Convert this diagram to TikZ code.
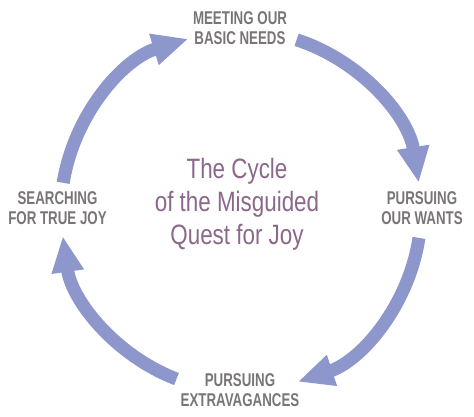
\documentclass[tikz,border=0pt]{standalone}
\usepackage{fontspec}
\usetikzlibrary{arrows.meta}
\newfontfamily\lblfont[FakeStretch=0.72]{Liberation Sans}
\newfontfamily\ttlfont[FakeStretch=0.80]{Liberation Sans}
\definecolor{arrowcol}{RGB}{141,151,204}
\definecolor{lblcol}{RGB}{122,117,117}
\definecolor{ttlcol}{RGB}{138,104,138}
\tikzset{
  lbl/.style={anchor=north, inner sep=0pt, align=center, text=lblcol,
    font=\lblfont\bfseries\fontsize{18.5}{20}\selectfont},
  ttl/.style={anchor=north, inner sep=0pt, align=center, text=ttlcol,
    font=\ttlfont\fontsize{28}{33}\selectfont},
  cyc/.style={draw=arrowcol, line width=13pt,
    -{Triangle[length=36pt,width=30pt]}}
}
\begin{document}
\begin{tikzpicture}[x=1pt,y=1pt]
\useasboundingbox (0,0) rectangle (474,417);
\coordinate (c) at (241,206);
\node[lbl] (meet) at (240,405.3) {MEETING OUR\\BASIC NEEDS};
\node[lbl] (wants) at (422,225.3) {PURSUING\\OUR WANTS};
\node[lbl] (extra) at (240,44) {PURSUING\\EXTRAVAGANCES};
\node[lbl] (search) at (57.5,225.3) {SEARCHING\\FOR TRUE JOY};
\node[ttl] (title) at (237,258.7) {The Cycle\\of the Misguided\\Quest for Joy};
\draw[cyc] (c) ++(171:180) arc[start angle=171, end angle=107, radius=180];
\draw[cyc] (c) ++(72:180) arc[start angle=72, end angle=9, radius=180];
\draw[cyc] (c) ++(-8.6:180) arc[start angle=-8.6, end angle=-71.6, radius=180];
\draw[cyc] (c) ++(-111:180) arc[start angle=-111, end angle=-172, radius=180];
\end{tikzpicture}
\end{document}
